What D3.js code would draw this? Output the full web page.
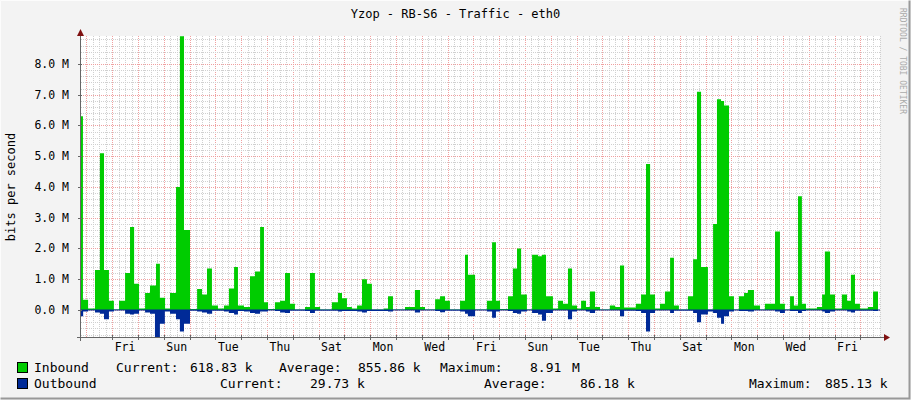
<!DOCTYPE html>
<html><head><meta charset="utf-8">
<script src="https://cdn.jsdelivr.net/npm/d3@7"></script>
<style>body{margin:0;background:#f3f3f3}text{font-family:"DejaVu Sans Mono",monospace}</style>
</head><body><div id="chart"></div>
<script>
// time in 2-hour steps from graph start, values in Mbit/s
const inTimes = [0,0.9,3.3,6.5,8.8,10.7,13,15.3,17.7,20.5,22.8,24.7,27,29.8,32.1,34.9,36.7,39.1,41.4,44.2,46,47.9,50.7,54,56.3,58.6,60.9,63.7,66.5,68.8,71.2,73,75.8,78.6,80.9,83.3,85.1,87,90.2,92.6,94.9,97.2,99.5,104.2,106.5,108.8,111.2,116.7,119.5,121.4,123.7,126,128.4,130.7,133,135.3,140.9,142.8,145.1,150.7,155.3,157.7,160,164.7,167,169.3,171.6,176.3,178.6,180,183.3,188.8,191.2,193,194.9,198.6,200.9,202.8,204.7,207.4,209.8,212.6,214.4,216.3,219.5,221.9,224.2,226.5,228.4,230.7,232.6,234.9,236.7,239.1,241.4,246,248.4,250.7,252.6,258.1,260.5,262.8,264.7,267,269.3,271.6,274,275.8,278.1,282.3,284.7,286.5,288.4,291.6,294,295.8,297.7,299.1,301.4,303.7,306,308.4,310.2,313,315.8,318.1,322.8,325.1,327.4,329.8,331.6,333.5,335.3,337.2,342.3,344.7,346,348.4,350.7,353.9,356.3,358.1,360,362.3,366,368.4,370.7];
const inValues = [6.3,0.33,0.05,1.3,5.1,1.3,0.3,0.02,0.3,1.2,2.7,0.85,0.05,0.55,0.8,1.5,0.4,0.05,0.55,4.0,8.9,2.6,0.03,0.68,0.5,1.35,0.15,0.05,0.15,0.7,1.4,0.15,0.1,1.1,1.25,2.7,0.25,0.03,0.25,0.3,1.2,0.2,0.02,0.1,1.2,0.1,0.02,0.25,0.55,0.38,0.1,0.05,0.15,1.0,0.85,0.02,0.05,0.45,0.02,0.1,0.65,0.1,0.02,0.35,0.45,0.3,0.02,0.3,1.8,1.15,0.02,0.3,2.2,0.3,0.03,0.45,1.35,2.0,0.5,0.02,1.8,1.75,1.8,0.45,0.05,0.3,0.2,1.35,0.15,0.05,0.3,0.1,0.6,0.1,0.02,0.15,0.1,1.45,0.08,0.2,0.5,4.75,0.5,0.05,0.2,0.6,1.7,0.15,0.02,0.45,1.65,7.1,1.4,0.02,2.8,6.85,6.8,6.65,0.45,0.02,0.45,0.55,0.65,0.15,0.02,0.2,2.55,0.2,0.02,0.45,0.15,3.7,0.2,0.05,0.1,0.5,1.9,0.5,0.05,0.5,0.3,1.15,0.2,0.05,0.1,0.6,0.6];
const outTimes = [0,1,3.3,6.5,8.8,10.7,13,15.3,20.5,22.8,24.7,27,29.8,32.1,34.4,36.7,39,41.4,44.2,46,47.9,50.7,54,56.3,58.6,61,66.5,68.8,71.2,73,75.8,78.6,80.9,83.3,87,90.2,92.6,94.9,97.2,104.2,106.5,108.8,116.7,119.5,121.4,128.4,130.7,133,142.8,145.1,155.3,157.7,164.7,167,169.3,176.3,178.6,180,183.3,188.8,191.2,193,194.9,198.6,200.9,202.8,204.7,207.4,209.8,212.6,214.4,216.3,219.5,226.5,228.4,230.7,234.9,236.7,239.1,250.7,252.6,258.1,260.5,262.8,264.7,267,274,275.8,284.7,286.5,288.4,291.6,294,295.8,297.7,299.1,301.4,303.7,306,310.2,313,322.8,325.1,327.4,329.8,333.5,335.3,337.2,344.7,346,348.4,350.7,356.3,358.1,360,368.4,370.7];
const outValues = [0.2,0.05,0,0.08,0.12,0.3,0.05,0,0.12,0.15,0.12,0,0.08,0.12,0.9,0.45,0.05,0.12,0.3,0.7,0.45,0.02,0.05,0.08,0.12,0.02,0.05,0.1,0.15,0.03,0.05,0.1,0.12,0.05,0,0.03,0.08,0.1,0.02,0.03,0.1,0.02,0.02,0.05,0.03,0.05,0.08,0.03,0.05,0,0.08,0,0.03,0.07,0.02,0.05,0.12,0.2,0,0.05,0.25,0.05,0,0.03,0.1,0.12,0.05,0,0.1,0.15,0.35,0.1,0,0.3,0.05,0,0.05,0.1,0,0.2,0.02,0.03,0.1,0.7,0.1,0,0.1,0.02,0.1,0.4,0.15,0.05,0.1,0.25,0.45,0.2,0.05,0,0.03,0.05,0,0.05,0.1,0,0.03,0.1,0.03,0,0.05,0.1,0.05,0,0.05,0.08,0.02,0.03,0.03];
const dayLabels = ["Fri","Sun","Tue","Thu","Sat","Mon","Wed","Fri","Sun","Tue","Thu","Sat","Mon","Wed","Fri"];
const yTicks = [0,1,2,3,4,5,6,7,8];
const firstMidnight = 14.5; // step index of first midnight
const legendRows = [
  {name:"Inbound", color:"#00cc00", cells:[[116,"Current:"],[190,"618.83 k"],[279,"Average:"],[358,"855.86 k"],[440,"Maximum:"],[530,"8.91"],[572,"M"]]},
  {name:"Outbound", color:"#002a97", cells:[[220,"Current:"],[310,"29.73 k"],[484,"Average:"],[580,"86.18 k"],[749,"Maximum:"],[825,"885.13 k"]]}
];

const W = 911, H = 400;
const svg = d3.select("#chart").append("svg").attr("width", W).attr("height", H);
svg.append("rect").attr("width", W).attr("height", H).attr("fill", "#f3f3f3");
svg.append("path").attr("d", `M0.5,${H-0.5}V0.5H${W-0.5}`).attr("stroke", "#fcfcfc").attr("fill", "none");
svg.append("path").attr("d", `M0.5,${H-1.5}H${W-1.5}V0.5`).attr("stroke", "#999").attr("stroke-width", 2).attr("fill", "none");

const x = d3.scaleLinear().domain([0, 370.7]).range([81, 878]);
const y = d3.scaleLinear().domain([-0.878, 8.91]).range([337, 36]);
const x0 = 81, x1 = 880, yTop = 36, yBot = 337;

svg.append("rect").attr("x", x0).attr("y", yTop).attr("width", x1 - x0).attr("height", yBot - yTop).attr("fill", "#fff");

// grid
const g = svg.append("g").attr("stroke-width", 1).attr("stroke-dasharray", "1,1");
for (let t = firstMidnight % 3; t <= 372; t += 3) {
  const major = Math.abs(((t - firstMidnight) % 12 + 12) % 12) < 0.01;
  g.append("line").attr("x1", Math.round(x(t)) + 0.5).attr("x2", Math.round(x(t)) + 0.5)
    .attr("y1", yTop).attr("y2", yBot).attr("stroke", major ? "#f0a0a0" : "#d0d0d0");
}
for (let v = -0.8; v <= 8.9; v += 0.2) {
  const major = Math.abs(v - Math.round(v)) < 0.01;
  g.append("line").attr("x1", x0).attr("x2", x1).attr("y1", Math.round(y(v)) + 0.5).attr("y2", Math.round(y(v)) + 0.5)
    .attr("stroke", major ? "#f0a0a0" : "#d0d0d0");
}

const inData = inTimes.map((t, i) => ({t, v: inValues[i]}));
const outData = outTimes.map((t, i) => ({t, v: -outValues[i]}));
const area = d3.area().curve(d3.curveStepAfter).x(d => x(d.t)).y0(y(0)).y1(d => y(d.v));
svg.append("path").datum(inData).attr("d", area).attr("fill", "#00cc00");
svg.append("path").datum(outData).attr("d", area).attr("fill", "#002a97");
svg.append("line").attr("x1", x0).attr("x2", x1).attr("y1", y(0)).attr("y2", y(0)).attr("stroke", "#002a97");

// axes
svg.append("line").attr("x1", x0 - 0.5).attr("x2", x0 - 0.5).attr("y1", 32).attr("y2", yBot + 4).attr("stroke", "#666");
svg.append("line").attr("x1", x0 - 4).attr("x2", 884).attr("y1", yBot + 0.5).attr("y2", yBot + 0.5).attr("stroke", "#666");
svg.append("path").attr("d", `M${x0-4},36L${x0-0.5},29L${x0+3},36Z`).attr("fill", "#7f1010");
svg.append("path").attr("d", `M884,${yBot-3}L890,${yBot+0.5}L884,${yBot+4}Z`).attr("fill", "#7f1010");

yTicks.forEach(v => {
  svg.append("line").attr("x1", x0 - 3).attr("x2", x0 + 1).attr("y1", Math.round(y(v)) + 0.5).attr("y2", Math.round(y(v)) + 0.5).attr("stroke", "#666");
  svg.append("text").attr("x", 69).attr("y", y(v) + 4).attr("text-anchor", "end").attr("font-size", 11.5).attr("fill", "#000")
    .text(v.toFixed(1) + " M");
});
dayLabels.forEach((d, i) => {
  svg.append("text").attr("x", x(firstMidnight + 6 + 24 * i)).attr("y", 351).attr("text-anchor", "middle")
    .attr("font-size", 11.5).text(d);
});
for (let t = firstMidnight; t <= 372; t += 12) {
  svg.append("line").attr("x1", Math.round(x(t)) + 0.5).attr("x2", Math.round(x(t)) + 0.5).attr("y1", yBot - 2).attr("y2", yBot + 3).attr("stroke", "#666");
}

svg.append("text").attr("x", W / 2).attr("y", 18).attr("text-anchor", "middle").attr("font-size", 12).text("Yzop - RB-S6 - Traffic - eth0");
svg.append("text").attr("transform", "translate(15,187) rotate(-90)").attr("text-anchor", "middle").attr("font-size", 12).text("bits per second");
svg.append("text").attr("transform", "translate(900,8) rotate(90)").attr("font-size", 8).attr("fill", "#aaa").text("RRDTOOL / TOBI OETIKER");

legendRows.forEach((r, i) => {
  const ly = 372 + i * 16;
  svg.append("rect").attr("x", 17.5).attr("y", ly - 9.5).attr("width", 10).attr("height", 10).attr("fill", r.color).attr("stroke", "#000");
  svg.append("text").attr("x", 34).attr("y", ly).attr("font-size", 13).text(r.name);
  r.cells.forEach(([cx, s]) => svg.append("text").attr("x", cx).attr("y", ly).attr("font-size", 13).text(s));
});
</script></body></html>
